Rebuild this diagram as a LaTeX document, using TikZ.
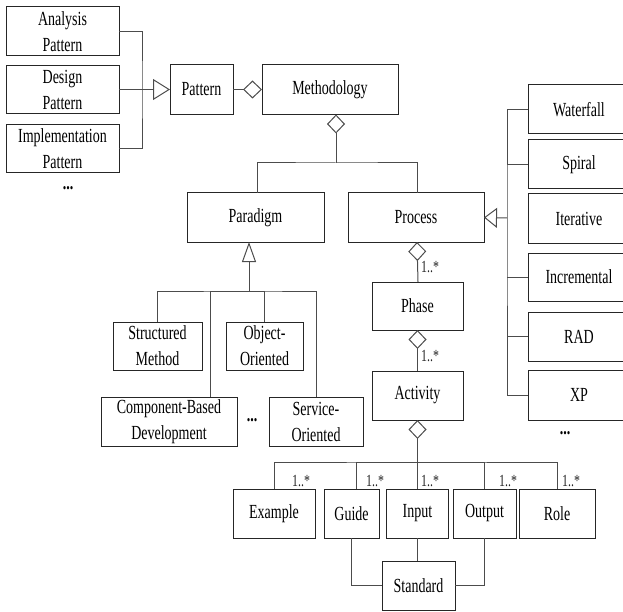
\documentclass[tikz,border=0pt]{standalone}
\usepackage{fontspec}
\setmainfont{Liberation Serif}[FakeStretch=0.70]
\usetikzlibrary{arrows.meta}

\tikzset{
  box/.style={draw=black!85, line width=1pt, fill=white, inner sep=0pt, outer sep=0pt,
              align=center, font=\fontsize{20}{26}\selectfont, text=black},
  link/.style={draw=black!70, line width=1pt},
  mult/.style={inner sep=0pt, font=\fontsize{17}{17}\selectfont, text=black!85},
  dots/.style={inner sep=0pt, font=\bfseries\fontsize{20}{20}\selectfont},
  agg/.style={{Diamond[open, length=19pt, width=18pt, line width=1pt]}-},
}

\begin{document}
\begin{tikzpicture}[x=1pt, y=-1pt]
\useasboundingbox (0,0) rectangle (623,612);

% pattern family
\node[box, minimum width=113pt, minimum height=49pt] (analysis) at (62.5,31.5) {Analysis\\Pattern};
\node[box, minimum width=113pt, minimum height=48pt] (design) at (62.5,89.5) {Design\\Pattern};
\node[box, minimum width=113pt, minimum height=48pt] (impl) at (62.5,149) {Implementation\\Pattern};
\node[dots] (pdots) at (68,188) {...};
\node[box, minimum width=63pt, minimum height=50pt] (pattern) at (201.5,89.5) {Pattern};
\node[box, minimum width=136pt, minimum height=50pt] (meth) at (330,89.5) {Methodology};

% paradigm family
\node[box, minimum width=137pt, minimum height=49pt] (paradigm) at (255.5,217.5) {Paradigm};
\node[box, minimum width=89pt, minimum height=48pt] (structured) at (157.5,346) {Structured\\Method};
\node[box, minimum width=77pt, minimum height=48pt] (oo) at (264.5,346) {Object-\\Oriented};
\node[box, minimum width=136pt, minimum height=49pt] (cbd) at (169,421.5) {Component-Based\\Development};
\node[box, minimum width=94pt, minimum height=49pt] (so) at (316,421.5) {Service-\\Oriented};
\node[dots] (mdots) at (252,420) {...};

% process family
\node[box, minimum width=136pt, minimum height=49pt] (process) at (416,217.5) {Process};
\node[box, minimum width=102pt, minimum height=49pt] (waterfall) at (579,109.5) {Waterfall};
\node[box, minimum width=102pt, minimum height=49pt] (spiral) at (579,164.5) {Spiral};
\node[box, minimum width=102pt, minimum height=49pt] (iterative) at (579,218.5) {Iterative};
\node[box, minimum width=102pt, minimum height=48pt] (incremental) at (579,277) {Incremental};
\node[box, minimum width=102pt, minimum height=49pt] (rad) at (579,336.5) {RAD};
\node[box, minimum width=102pt, minimum height=50pt] (xp) at (579,395) {XP};
\node[dots] (rdots) at (565,433) {...};

% phase / activity chain
\node[box, minimum width=91pt, minimum height=48pt] (phase) at (417.5,306) {Phase};
\node[box, minimum width=91pt, minimum height=49pt] (activity) at (417.5,395.5) {Activity};
\node[box, minimum width=82pt, minimum height=49pt] (example) at (274,513.5) {Example};
\node[box, minimum width=55pt, minimum height=49pt] (guide) at (351.5,513.5) {Guide};
\node[box, minimum width=62pt, minimum height=49pt] (input) at (417.5,513.5) {Input};
\node[box, minimum width=63pt, minimum height=49pt] (output) at (484.5,513.5) {Output};
\node[box, minimum width=76pt, minimum height=49pt] (role) at (557,513.5) {Role};
\node[box, minimum width=73pt, minimum height=49pt] (standard) at (418.5,585.5) {Standard};

% junction points
\coordinate (pj) at (142,89.5);
\coordinate (mj) at (336,163);
\coordinate (gj) at (249,291);
\coordinate (rj) at (507,218);
\coordinate (aj) at (417.5,462);

% pattern generalisation
\draw[link] (analysis.east) -| (pj) |- (impl.east);
\draw[link, -{Triangle[open, length=17pt, width=21pt, line width=1pt]}] (design.east) -- (pattern.west);
\draw[link, agg] (meth.west) -- (pattern.east);

% methodology aggregation
\draw[link, agg] ([xshift=6pt]meth.south) -- (mj);
\draw[link] ([xshift=1.5pt]paradigm.north) |- (mj) -| ([xshift=1pt]process.north);

% paradigm generalisation
\draw[link, -{Triangle[open, length=20pt, width=14pt, line width=1pt]}] (gj) -- ([xshift=-6.5pt]paradigm.south);
\draw[link] (structured.north) |- (gj) -| (so.north);
\draw[link] (oo.north) |- (gj);
\draw[link] ([xshift=41pt]cbd.north) |- (gj);

% process generalisation
\draw[link, -{Triangle[open, length=13pt, width=20pt, line width=1pt]}] (rj) -- (process.east);
\draw[link] (waterfall.west) -| (rj) |- (xp.west);
\draw[link] (spiral.west) -- (spiral.west -| rj);
\draw[link] (incremental.west) -- (incremental.west -| rj);
\draw[link] (rad.west) -- (rad.west -| rj);

% phase / activity aggregation
\draw[link, agg] ([xshift=1pt]process.south) -- ([xshift=0.5pt]phase.north);
\draw[link, agg] (phase.south) -- (activity.north);
\draw[link, agg] (activity.south) -- (input.north);
\draw[link] (example.north) |- (aj) -| (role.north);
\draw[link] ([xshift=4.5pt]guide.north) |- (aj);
\draw[link] (output.north) |- (aj);

% standard links
\draw[link] (guide.south) |- (standard.west);
\draw[link] (input.south) -- ([xshift=-1pt]standard.north);
\draw[link] (output.south) |- (standard.east);

% multiplicities
\node[mult, anchor=south west] (m1) at (421,273) {1..*};
\node[mult, anchor=south west] (m2) at (421,362) {1..*};
\node[mult, anchor=south west] (m3) at (292,487) {1..*};
\node[mult, anchor=south west] (m4) at (366,487) {1..*};
\node[mult, anchor=south west] (m5) at (421,487) {1..*};
\node[mult, anchor=south west] (m6) at (499,487) {1..*};
\node[mult, anchor=south west] (m7) at (562,487) {1..*};
\end{tikzpicture}
\end{document}
